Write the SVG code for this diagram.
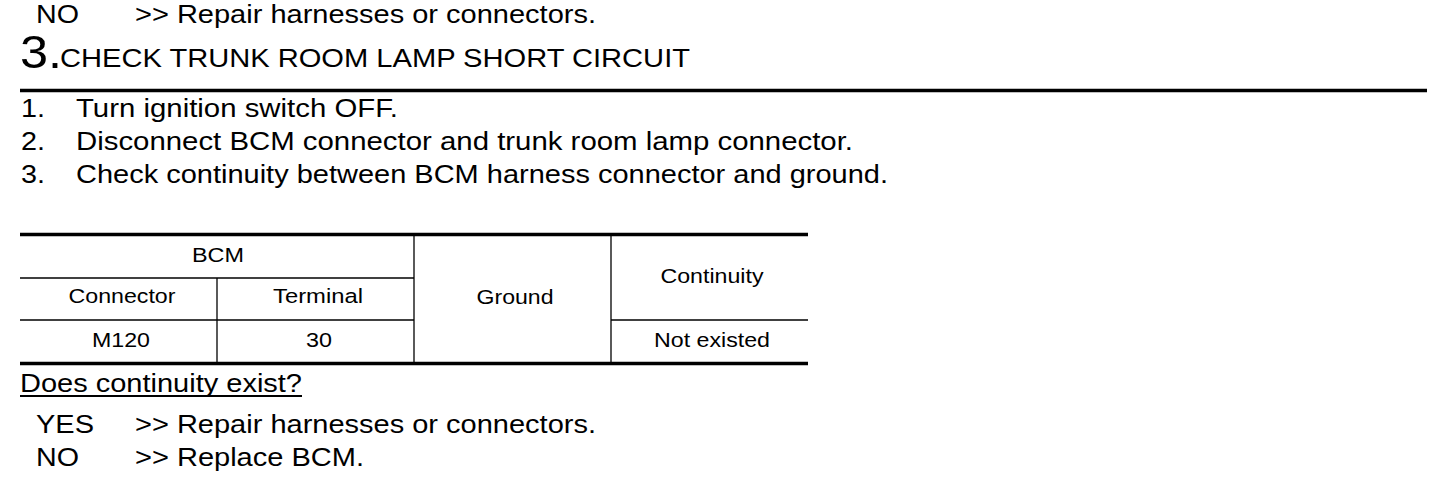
<svg xmlns="http://www.w3.org/2000/svg" width="1456" height="482" viewBox="0 0 1456 482">
<style>
  text { font-family: "Liberation Sans", Arial, sans-serif; fill: #000; }
  .b { font-size: 26px; }
  .h { font-size: 46px; }
  .t { font-size: 20.5px; text-anchor: middle; }
  .thick { stroke: #000; stroke-width: 3.5; fill: none; }
  .thin { stroke: #000; stroke-width: 1.3; fill: none; }
</style>
<rect width="1456" height="482" fill="#fff"/>

<g id="prev-result">
  <text class="b" x="36" y="23" textLength="43" lengthAdjust="spacingAndGlyphs">NO</text>
  <text class="b" x="135" y="23" textLength="461" lengthAdjust="spacingAndGlyphs">&gt;&gt; Repair harnesses or connectors.</text>
</g>

<g id="step-title">
  <text class="h" x="20" y="68" textLength="42" lengthAdjust="spacingAndGlyphs">3.</text>
  <text class="b" x="60" y="67" textLength="630" lengthAdjust="spacingAndGlyphs">CHECK TRUNK ROOM LAMP SHORT CIRCUIT</text>
  <line class="thick" x1="20" y1="90.5" x2="1427" y2="90.5" stroke-width="3"/>
</g>

<g id="procedure">
  <text class="b" x="21" y="117" textLength="24" lengthAdjust="spacingAndGlyphs">1.</text>
  <text class="b" x="76" y="117" textLength="322" lengthAdjust="spacingAndGlyphs">Turn ignition switch OFF.</text>
  <text class="b" x="21" y="150" textLength="24" lengthAdjust="spacingAndGlyphs">2.</text>
  <text class="b" x="76" y="150" textLength="777" lengthAdjust="spacingAndGlyphs">Disconnect BCM connector and trunk room lamp connector.</text>
  <text class="b" x="21" y="183" textLength="24" lengthAdjust="spacingAndGlyphs">3.</text>
  <text class="b" x="76" y="183" textLength="812" lengthAdjust="spacingAndGlyphs">Check continuity between BCM harness connector and ground.</text>
</g>

<g id="table">
  <line class="thick" x1="20" y1="234.5" x2="808" y2="234.5"/>
  <line class="thick" x1="20" y1="363.5" x2="808" y2="363.5"/>
  <line class="thin" x1="20" y1="278" x2="414" y2="278"/>
  <line class="thin" x1="20" y1="320" x2="414" y2="320"/>
  <line class="thin" x1="611" y1="320" x2="808" y2="320"/>
  <line class="thin" x1="217" y1="278" x2="217" y2="363"/>
  <line class="thin" x1="414" y1="235" x2="414" y2="363"/>
  <line class="thin" x1="611" y1="235" x2="611" y2="363"/>
  <text class="t" x="218" y="262" textLength="52" lengthAdjust="spacingAndGlyphs">BCM</text>
  <text class="t" x="122" y="303" textLength="107" lengthAdjust="spacingAndGlyphs">Connector</text>
  <text class="t" x="318" y="303" textLength="90" lengthAdjust="spacingAndGlyphs">Terminal</text>
  <text class="t" x="515" y="304" textLength="77" lengthAdjust="spacingAndGlyphs">Ground</text>
  <text class="t" x="712" y="283" textLength="103" lengthAdjust="spacingAndGlyphs">Continuity</text>
  <text class="t" x="121" y="347" textLength="58" lengthAdjust="spacingAndGlyphs">M120</text>
  <text class="t" x="319" y="347" textLength="26" lengthAdjust="spacingAndGlyphs">30</text>
  <text class="t" x="712" y="347" textLength="116" lengthAdjust="spacingAndGlyphs">Not existed</text>
</g>

<g id="question">
  <text class="b" x="20" y="392" textLength="282" lengthAdjust="spacingAndGlyphs">Does continuity exist?</text>
  <line x1="20" y1="396" x2="302" y2="396" stroke="#000" stroke-width="2"/>
</g>

<g id="answers">
  <text class="b" x="36" y="433" textLength="58" lengthAdjust="spacingAndGlyphs">YES</text>
  <text class="b" x="135" y="433" textLength="461" lengthAdjust="spacingAndGlyphs">&gt;&gt; Repair harnesses or connectors.</text>
  <text class="b" x="36" y="466" textLength="43" lengthAdjust="spacingAndGlyphs">NO</text>
  <text class="b" x="135" y="466" textLength="229" lengthAdjust="spacingAndGlyphs">&gt;&gt; Replace BCM.</text>
</g>
</svg>
